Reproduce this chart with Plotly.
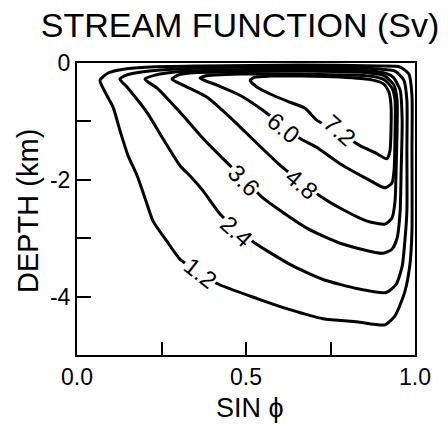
import plotly.graph_objects as go

# Meridional overturning stream function contours (Sv), traced as closed loops
# x: sine of latitude, y: depth in km
levels = ["1.2", "2.4", "3.6", "4.8", "6.0", "7.2"]

x_12 = [0.068, 0.080, 0.107, 0.127, 0.151, 0.178, 0.201, 0.225, 0.266, 0.305, 0.358, 0.414,
        0.533, 0.630, 0.728, 0.828, 0.911, 0.941, 0.970, 0.985, 0.991, 0.991, 0.991, 0.982,
        0.956, 0.896, 0.660, 0.364, 0.216, 0.142, 0.092, 0.068]
y_12 = [-0.293, -0.466, -0.759, -1.155, -1.586, -1.931, -2.310, -2.707, -3.052, -3.362, -3.569, -3.776,
        -4.034, -4.224, -4.379, -4.431, -4.483, -4.328, -3.914, -3.448, -2.879, -1.500, -0.552, -0.190,
        -0.069, -0.052, -0.034, -0.052, -0.069, -0.103, -0.172, -0.293]

x_24 = [0.127, 0.151, 0.207, 0.254, 0.305, 0.334, 0.373, 0.423, 0.473, 0.527, 0.630, 0.728,
        0.828, 0.914, 0.944, 0.962, 0.970, 0.976, 0.976, 0.976, 0.967, 0.941, 0.896, 0.660,
        0.364, 0.246, 0.172, 0.139, 0.127]
y_24 = [-0.276, -0.431, -0.845, -1.293, -1.759, -1.931, -2.190, -2.586, -2.845, -3.086, -3.448, -3.707,
        -3.862, -3.931, -3.793, -3.483, -3.052, -2.534, -1.500, -0.638, -0.293, -0.138, -0.103, -0.069,
        -0.086, -0.121, -0.172, -0.224, -0.276]

x_36 = [0.201, 0.237, 0.305, 0.373, 0.432, 0.462, 0.506, 0.550, 0.680, 0.778, 0.905, 0.932,
        0.947, 0.956, 0.959, 0.962, 0.956, 0.935, 0.896, 0.660, 0.423, 0.290, 0.231, 0.201]
y_36 = [-0.276, -0.431, -0.845, -1.293, -1.638, -1.810, -2.052, -2.310, -2.828, -3.086, -3.259, -3.190,
        -3.000, -2.534, -1.845, -0.983, -0.466, -0.241, -0.155, -0.103, -0.121, -0.155, -0.207, -0.276]

x_48 = [0.281, 0.314, 0.385, 0.453, 0.533, 0.609, 0.663, 0.719, 0.778, 0.858, 0.911, 0.932,
        0.941, 0.944, 0.947, 0.947, 0.938, 0.911, 0.867, 0.660, 0.423, 0.334, 0.299, 0.281]
y_48 = [-0.276, -0.379, -0.586, -0.931, -1.379, -1.793, -2.034, -2.276, -2.483, -2.707, -2.759, -2.655,
        -2.362, -1.845, -1.155, -0.638, -0.379, -0.224, -0.172, -0.138, -0.155, -0.172, -0.207, -0.276]

x_60 = [0.364, 0.414, 0.482, 0.550, 0.604, 0.660, 0.710, 0.778, 0.858, 0.911, 0.932, 0.938,
        0.941, 0.941, 0.932, 0.911, 0.867, 0.660, 0.482, 0.408, 0.379, 0.364]
y_60 = [-0.259, -0.379, -0.552, -0.810, -1.052, -1.293, -1.448, -1.724, -1.983, -2.138, -2.052, -1.845,
        -1.207, -0.638, -0.431, -0.293, -0.224, -0.190, -0.190, -0.207, -0.224, -0.259]

x_72 = [0.512, 0.533, 0.580, 0.630, 0.675, 0.710, 0.772, 0.837, 0.882, 0.917, 0.926, 0.929,
        0.929, 0.923, 0.908, 0.876, 0.778, 0.660, 0.571, 0.527, 0.512]
y_72 = [-0.293, -0.414, -0.552, -0.672, -0.776, -0.983, -1.172, -1.414, -1.534, -1.638, -1.500, -1.155,
        -0.724, -0.500, -0.362, -0.293, -0.241, -0.224, -0.224, -0.241, -0.293]

# Inline contour label positions and rotation (degrees, clockwise)
label_x = [0.364, 0.473, 0.494, 0.663, 0.610, 0.778]
label_y = [-3.586, -2.879, -2.017, -2.069, -1.103, -1.155]
label_angle = [38, 42, 45, 40, 39, 42]

x_ticks = [0.0, 0.25, 0.5, 0.75, 1.0]
x_ticktext = ["0.0", "", "0.5", "", "1.0"]
y_ticks = [0, -1, -2, -3, -4, -5]
y_ticktext = ["0", "", "-2", "", "-4", ""]

FONT = "Liberation Sans, Arial, Helvetica, sans-serif"

fig = go.Figure()
for xs, ys in [(x_12, y_12), (x_24, y_24), (x_36, y_36), (x_48, y_48), (x_60, y_60), (x_72, y_72)]:
    fig.add_trace(go.Scatter(
        x=xs, y=ys, mode="lines",
        line=dict(color="black", width=3, shape="spline", smoothing=0.6),
        hoverinfo="skip", showlegend=False,
    ))

for txt, lx, ly, ang in zip(levels, label_x, label_y, label_angle):
    fig.add_annotation(
        x=lx, y=ly, text=txt, showarrow=False, textangle=ang,
        font=dict(family=FONT, size=24, color="black"),
        bgcolor="white", borderpad=1,
    )

fig.add_annotation(
    xref="paper", yref="paper", x=(250 - 77) / 338, y=-(408 - 355) / 290,
    text="SIN ϕ", showarrow=False, font=dict(family=FONT, size=27, color="black"),
    xanchor="center", yanchor="middle",
)
fig.add_annotation(
    xref="paper", yref="paper", x=-(77 - 28) / 338, y=(355 - 212) / 290,
    text="DEPTH (km)", showarrow=False, textangle=-90,
    font=dict(family=FONT, size=29, color="black"),
    xanchor="center", yanchor="middle",
)

fig.update_layout(
    width=448, height=424,
    margin=dict(l=77, r=33, t=63, b=69),
    paper_bgcolor="white", plot_bgcolor="white",
    title=dict(
        text="STREAM FUNCTION (Sv)", x=(240 - 77) / 338, xref="paper",
        y=1 - 25 / 424, yref="container", xanchor="center", yanchor="middle",
        font=dict(family=FONT, size=34, color="black"),
    ),
)
fig.update_xaxes(
    range=[0, 1], tickvals=x_ticks, ticktext=x_ticktext,
    ticks="inside", ticklen=13, tickwidth=2, tickcolor="black",
    showline=True, linewidth=2, linecolor="black", mirror=True,
    showgrid=False, zeroline=False,
    tickfont=dict(family=FONT, size=23, color="black"),
)
fig.update_yaxes(
    range=[-5, 0], tickvals=y_ticks, ticktext=y_ticktext,
    ticks="inside", ticklen=14, tickwidth=2, tickcolor="black",
    showline=True, linewidth=2, linecolor="black", mirror=True,
    showgrid=False, zeroline=False,
    tickfont=dict(family=FONT, size=23, color="black"),
)

fig.write_html("out.html")
